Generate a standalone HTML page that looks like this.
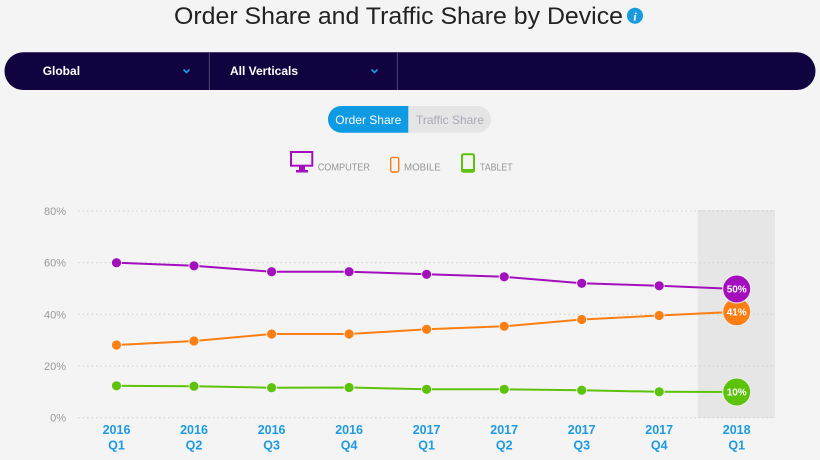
<!DOCTYPE html>
<html><head><meta charset="utf-8"><style>
html,body{margin:0;padding:0;background:#f4f4f4;}
svg{display:block;font-family:"Liberation Sans",sans-serif;}
</style></head><body>
<svg width="820" height="460" viewBox="0 0 820 460" xmlns="http://www.w3.org/2000/svg">
<rect width="820" height="460" fill="#f4f4f4"/>
<!-- title -->
<text x="174" y="24" font-size="24" fill="#222" textLength="449" lengthAdjust="spacingAndGlyphs" style="font-weight:300">Order Share and Traffic Share by Device</text>
<circle cx="635" cy="15.7" r="8" fill="#1a9be0"/>
<text x="635" y="20.5" font-size="12" font-weight="bold" font-style="italic" fill="#fff" text-anchor="middle" font-family="Liberation Serif, serif">i</text>
<!-- nav bar -->
<rect x="4.5" y="52.3" width="811" height="37.7" rx="18.8" fill="#10033f"/>
<line x1="209.3" y1="52.3" x2="209.3" y2="90" stroke="#4c4575" stroke-width="1"/>
<line x1="397.3" y1="52.3" x2="397.3" y2="90" stroke="#4c4575" stroke-width="1"/>
<text x="42.7" y="75" font-size="12" font-weight="bold" fill="#fff">Global</text>
<text x="230" y="75" font-size="12" font-weight="bold" fill="#fff">All Verticals</text>
<polyline points="183.5,69.5 186.5,72.5 189.5,69.5" fill="none" stroke="#1a9be0" stroke-width="1.6"/>
<polyline points="371.5,69.5 374.5,72.5 377.5,69.5" fill="none" stroke="#1a9be0" stroke-width="1.6"/>
<!-- toggle -->
<rect x="328" y="106" width="163" height="26.7" rx="13.3" fill="#e5e5e6"/>
<path d="M408.3,106 L341.3,106 A13.3,13.3 0 0 0 341.3,132.7 L408.3,132.7 Z" fill="#0e9be3"/>
<text x="368.3" y="124" font-size="12" fill="#fff" text-anchor="middle">Order Share</text>
<text x="450" y="124" font-size="12" fill="#a9a9b9" text-anchor="middle">Traffic Share</text>
<!-- legend -->
<rect x="291" y="152" width="21.3" height="13.7" fill="none" stroke="#a30fbd" stroke-width="2"/>
<rect x="299" y="166" width="6" height="4" fill="#a30fbd"/>
<rect x="296" y="170" width="12" height="2.5" fill="#a30fbd"/>
<text x="317.7" y="170.7" font-size="10.5" fill="#969696" textLength="52.3" lengthAdjust="spacingAndGlyphs">COMPUTER</text>
<rect x="390.7" y="157.4" width="8" height="14.6" rx="1.5" fill="none" stroke="#fd7e12" stroke-width="1.4"/>
<text x="404" y="170.7" font-size="10.5" fill="#969696" textLength="36.7" lengthAdjust="spacingAndGlyphs">MOBILE</text>
<rect x="462" y="154.3" width="12" height="17.4" rx="1.5" fill="none" stroke="#5cc30a" stroke-width="2"/>
<rect x="462" y="169" width="12" height="2.7" fill="#5cc30a"/>
<text x="480" y="170.7" font-size="10.5" fill="#969696" textLength="32.7" lengthAdjust="spacingAndGlyphs">TABLET</text>
<!-- shaded region -->
<rect x="697.7" y="210" width="77.3" height="208" fill="#e6e6e6"/>
<!-- grid -->
<g stroke="#cfcfcf" stroke-width="1" stroke-dasharray="1.5,3">
<line x1="78" y1="211" x2="775" y2="211"/>
<line x1="78" y1="262.7" x2="775" y2="262.7"/>
<line x1="78" y1="314.3" x2="775" y2="314.3"/>
<line x1="78" y1="366" x2="775" y2="366"/>
<line x1="78" y1="417.7" x2="775" y2="417.7"/>
</g>
<g font-size="11" fill="#9a9a9a" text-anchor="end">
<text x="66" y="215">80%</text>
<text x="66" y="266.7">60%</text>
<text x="66" y="318.3">40%</text>
<text x="66" y="370">20%</text>
<text x="66" y="421.7">0%</text>
</g>
<!-- x labels -->
<g font-size="12.5" font-weight="bold" fill="#1d9be2" text-anchor="middle">
<text x="116.5" y="434">2016</text><text x="116.5" y="449.5">Q1</text>
<text x="194" y="434">2016</text><text x="194" y="449.5">Q2</text>
<text x="271.6" y="434">2016</text><text x="271.6" y="449.5">Q3</text>
<text x="349.1" y="434">2016</text><text x="349.1" y="449.5">Q4</text>
<text x="426.6" y="434">2017</text><text x="426.6" y="449.5">Q1</text>
<text x="504.2" y="434">2017</text><text x="504.2" y="449.5">Q2</text>
<text x="581.7" y="434">2017</text><text x="581.7" y="449.5">Q3</text>
<text x="659.2" y="434">2017</text><text x="659.2" y="449.5">Q4</text>
<text x="736.7" y="434">2018</text><text x="736.7" y="449.5">Q1</text>
</g>
<!-- series -->
<polyline fill="none" stroke="#a30fbd" stroke-width="2" points="116.5,262.7 194,265.8 271.6,271.7 349.1,271.7 426.6,274.3 504.2,276.8 581.7,283.3 659.2,285.8 736.7,289"/>
<polyline fill="none" stroke="#fd7e12" stroke-width="2" points="116.5,345 194,341 271.6,334 349.1,334 426.6,329.3 504.2,326.3 581.7,319.5 659.2,315.5 736.7,311.8"/>
<polyline fill="none" stroke="#5cc30a" stroke-width="2" points="116.5,385.8 194,386.2 271.6,387.7 349.1,387.5 426.6,389.3 504.2,389.3 581.7,390.2 659.2,391.8 736.7,392"/>
<g fill="#a30fbd" stroke="#f4f4f4" stroke-width="0.8">
<circle cx="116.5" cy="262.7" r="5"/><circle cx="194" cy="265.8" r="5"/><circle cx="271.6" cy="271.7" r="5"/><circle cx="349.1" cy="271.7" r="5"/><circle cx="426.6" cy="274.3" r="5"/><circle cx="504.2" cy="276.8" r="5"/><circle cx="581.7" cy="283.3" r="5"/><circle cx="659.2" cy="285.8" r="5"/>
</g>
<g fill="#fd7e12" stroke="#f4f4f4" stroke-width="0.8">
<circle cx="116.5" cy="345" r="5"/><circle cx="194" cy="341" r="5"/><circle cx="271.6" cy="334" r="5"/><circle cx="349.1" cy="334" r="5"/><circle cx="426.6" cy="329.3" r="5"/><circle cx="504.2" cy="326.3" r="5"/><circle cx="581.7" cy="319.5" r="5"/><circle cx="659.2" cy="315.5" r="5"/>
</g>
<g fill="#5cc30a" stroke="#f4f4f4" stroke-width="0.8">
<circle cx="116.5" cy="385.8" r="5"/><circle cx="194" cy="386.2" r="5"/><circle cx="271.6" cy="387.7" r="5"/><circle cx="349.1" cy="387.5" r="5"/><circle cx="426.6" cy="389.3" r="5"/><circle cx="504.2" cy="389.3" r="5"/><circle cx="581.7" cy="390.2" r="5"/><circle cx="659.2" cy="391.8" r="5"/>
</g>
<!-- end bubbles -->
<circle cx="736.7" cy="311.8" r="14" fill="#fd7e12" stroke="#eee" stroke-width="1"/>
<circle cx="736.7" cy="289" r="14" fill="#a30fbd" stroke="#eee" stroke-width="1"/>
<circle cx="736.7" cy="392" r="14" fill="#5cc30a" stroke="#eee" stroke-width="1"/>
<g font-size="10" font-weight="bold" fill="#fff" text-anchor="middle">
<text x="736.7" y="292.5">50%</text>
<text x="736.7" y="315.5">41%</text>
<text x="736.7" y="395.5">10%</text>
</g>
</svg>
</body></html>
